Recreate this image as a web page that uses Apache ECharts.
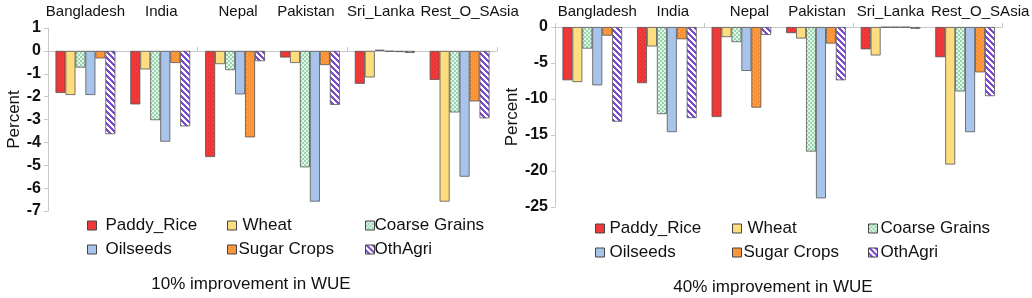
<!DOCTYPE html>
<html>
<head>
<meta charset="utf-8">
<script src="https://cdn.jsdelivr.net/npm/echarts@6/dist/echarts.min.js"></script>
<style>
html,body{margin:0;padding:0;background:#fff;}
#c{width:1032px;height:298px;}
</style>
</head>
<body>
<div id="c"></div>
<script>
var categories = ['Bangladesh', 'India', 'Nepal', 'Pakistan', 'Sri_Lanka', 'Rest_O_SAsia'];
var seriesNames = ['Paddy_Rice', 'Wheat', 'Coarse Grains', 'Oilseeds', 'Sugar Crops', 'OthAgri'];

// 10% improvement in WUE
var paddy10   = [-1.84, -2.34, -4.64, -0.29, -1.44, -1.27];
var wheat10   = [-1.93, -0.81, -0.58, -0.53, -1.16, -6.59];
var coarse10  = [-0.73, -3.03, -0.84, -5.09,  0.05, -2.69];
var oil10     = [-1.93, -3.97, -1.90, -6.59, -0.03, -5.50];
var sugar10   = [-0.33, -0.53, -3.78, -0.62, -0.05, -2.21];
var oth10     = [-3.64, -3.30, -0.45, -2.36, -0.09, -2.95];

// 40% improvement in WUE
var paddy40   = [-7.4, -7.8, -12.5, -0.85, -3.1, -4.2];
var wheat40   = [-7.65, -2.7, -1.4, -1.6, -3.95, -19.1];
var coarse40  = [-3.0, -12.1, -2.1, -17.3, -0.05, -8.95];
var oil40     = [-8.1, -14.6, -6.1, -23.8, -0.05, -14.6];
var sugar40   = [-1.2, -1.7, -11.2, -2.3, -0.05, -6.3];
var oth40     = [-13.15, -12.65, -1.1, -7.4, -0.25, -9.6];

var yTicks10 = {min: -7, max: 1, interval: 1};
var yTicks40 = {min: -25, max: 0, interval: 5};

function pattern(kind) {
  var c = document.createElement('canvas');
  var s = 4;
  c.width = s; c.height = s;
  var g = c.getContext('2d');
  if (kind === 'red') {
    g.fillStyle = '#f23a3a'; g.fillRect(0,0,s,s);
    g.fillStyle = '#d82a2a'; g.fillRect(0,0,1,1); g.fillRect(2,2,1,1);
  } else if (kind === 'green') {
    g.fillStyle = '#e4f6ea'; g.fillRect(0,0,s,s);
    g.fillStyle = '#98d6ae'; g.fillRect(0,0,2,2); g.fillRect(2,2,2,2);
  } else if (kind === 'orange') {
    g.fillStyle = '#f79238'; g.fillRect(0,0,s,s);
    g.fillStyle = '#fbb36a'; g.fillRect(1,1,1,1); g.fillRect(3,3,1,1);
  } else if (kind === 'purple') {
    s = 6; c.width = s; c.height = s;
    g = c.getContext('2d');
    g.fillStyle = '#ffffff'; g.fillRect(0,0,s,s);
    g.fillStyle = '#7b4ad0';
    for (var y = 0; y < s; y++) {
      for (var k = 0; k < 3; k++) {
        g.fillRect((y + k) % s, y, 1, 1);
      }
    }
  }
  return {image: c, repeat: 'repeat'};
}

var colors = [
  pattern('red'),
  '#fddd7e',
  pattern('green'),
  '#a8c4ea',
  pattern('orange'),
  pattern('purple')
];

var seriesData10 = [paddy10, wheat10, coarse10, oil10, sugar10, oth10];
var seriesData40 = [paddy40, wheat40, coarse40, oil40, sugar40, oth40];

var font = '"Liberation Sans", Arial, sans-serif';

// horizontal nudges (px) of the category labels, as placed in the original
var labelShift = [
  [0, 1, 3, -4, -4, 10],
  [5, 6, 8, 1, 0, 15]
];

function makeRich(gi) {
  var rich = {};
  labelShift[gi].forEach(function (d, i) {
    var p = Math.abs(d) * 2;
    rich['c' + i] = {
      fontSize: 15, color: '#111', fontFamily: font,
      padding: d >= 0 ? [0, 0, 0, p] : [0, p, 0, 0]
    };
  });
  return rich;
}

var option = {
  animation: false,
  backgroundColor: '#fff',
  textStyle: {fontFamily: font},
  title: [
    {text: '10% improvement in WUE', left: 246, top: 271, textAlign: 'center',
     textStyle: {fontSize: 17, fontWeight: 'normal', color: '#111', fontFamily: font}},
    {text: '40% improvement in WUE', left: 768, top: 274, textAlign: 'center',
     textStyle: {fontSize: 17, fontWeight: 'normal', color: '#111', fontFamily: font}}
  ],
  grid: [
    {left: 48, right: 535, top: 28, bottom: 87},
    {left: 555, right: 26, top: 27, bottom: 91}
  ],
  xAxis: [],
  yAxis: [],
  legend: [],
  series: []
};

[0, 1].forEach(function (gi) {
  option.xAxis.push({
    type: 'category', gridIndex: gi, data: categories, position: 'top',
    axisLine: {show: false, onZero: false}, axisTick: {show: false},
    axisLabel: {
      interval: 0, fontSize: 15, color: '#111', margin: gi === 0 ? 9 : 8, fontFamily: font,
      formatter: function (v, idx) { return '{c' + idx + '|' + v + '}'; },
      rich: makeRich(gi)
    }
  });
  option.xAxis.push({
    type: 'category', gridIndex: gi, data: categories, position: 'bottom',
    axisLine: {show: true, onZero: true, lineStyle: {color: '#c8c8c8', width: 1}},
    axisTick: {show: true, length: 4, inside: true, lineStyle: {color: '#c8c8c8'}},
    axisLabel: {show: false}
  });
  var t = gi === 0 ? yTicks10 : yTicks40;
  option.yAxis.push({
    type: 'value', gridIndex: gi, min: t.min, max: t.max, interval: t.interval,
    name: 'Percent', nameLocation: 'middle', nameGap: gi === 0 ? 22 : 24, nameRotate: 90,
    nameTextStyle: {fontSize: 17, color: '#111', fontFamily: font},
    axisLine: {show: true, lineStyle: {color: '#c8c8c8'}},
    axisTick: {show: true, length: 4, lineStyle: {color: '#c8c8c8'}},
    splitLine: {show: false},
    axisLabel: {fontSize: 16, fontWeight: 'bold', color: '#111', margin: 7, fontFamily: font}
  });
});

// legend item placement: [iconLeft, top, extra text offset]
var legendPos10 = [[87, 217, 4], [227, 217, 1], [365, 217, -5], [87, 241, 4], [227, 241, -3], [365, 241, -5]];
var legendPos40 = [[595, 220, 0], [732, 220, 1], [868, 220, -2], [595, 244, 0], [732, 244, -3], [868, 244, -2]];

seriesNames.forEach(function (name, i) {
  [[seriesData10, 0, legendPos10], [seriesData40, 1, legendPos40]].forEach(function (cfg) {
    var gi = cfg[1];
    var lp = cfg[2][i];
    option.series.push({
      name: name, type: 'bar', xAxisIndex: gi * 2, yAxisIndex: gi,
      data: cfg[0][i], barGap: '0%', barCategoryGap: '20%',
      itemStyle: {color: colors[i], borderColor: '#555', borderWidth: 0.8}
    });
    option.legend.push({
      data: [name], left: lp[0], top: lp[1],
      itemWidth: 9, itemHeight: 9, itemGap: 4, icon: 'rect', padding: 0,
      textStyle: {fontSize: 17, color: '#111', fontFamily: font,
                  padding: lp[2] >= 0 ? [0, 0, 0, lp[2]] : [0, 0, 0, 0]},
      formatter: lp[2] < 0 ? function (n) { return '{t|' + n + '}'; } : null,
      selectedMode: false,
      itemStyle: {borderColor: '#444', borderWidth: 1}
    });
    if (lp[2] < 0) {
      option.legend[option.legend.length - 1].textStyle.rich = {
        t: {fontSize: 17, color: '#111', fontFamily: font, align: 'left'}
      };
      option.legend[option.legend.length - 1].textStyle.padding = [0, 0, 0, lp[2]];
    }
  });
});

var chart = echarts.init(document.getElementById('c'), null, {renderer: 'canvas'});
chart.setOption(option);
</script>
</body>
</html>
